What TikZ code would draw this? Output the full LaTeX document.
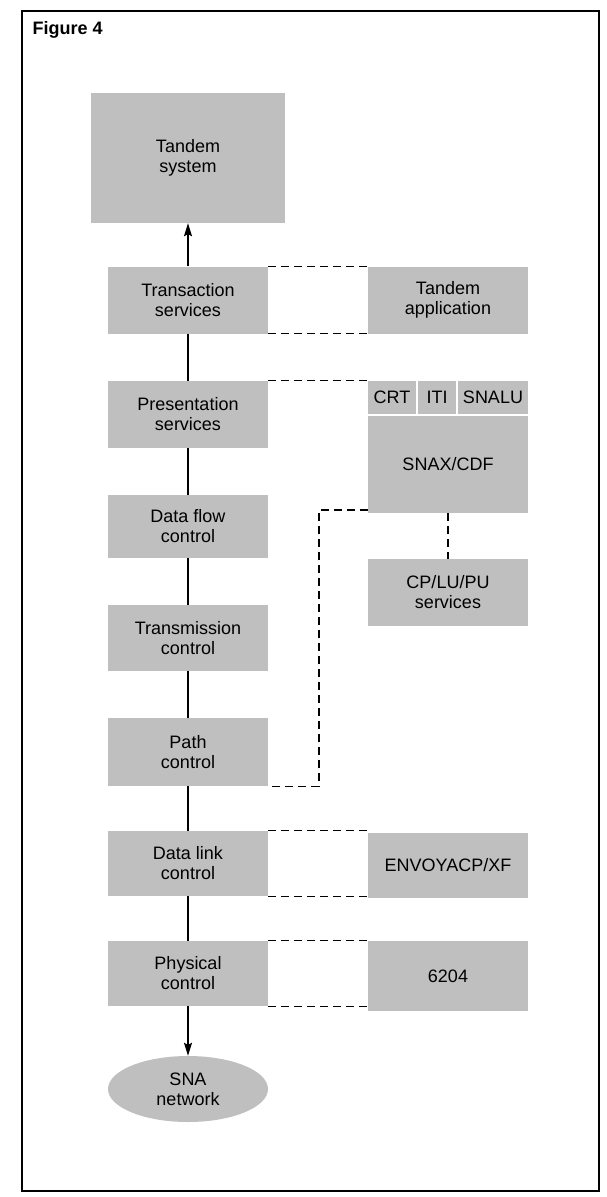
\documentclass[tikz,border=0pt]{standalone}
\usepackage{fontspec}
\setmainfont{Liberation Sans}
\usetikzlibrary{arrows.meta,shapes.geometric}

\begin{document}
\begin{tikzpicture}[x=1pt, y=-1pt,
        font=\fontsize{18}{20}\selectfont,
        layer/.style={fill=black!25, align=center, inner sep=0pt, minimum width=160pt},
        link/.style={line width=1.2pt},
        dline/.style={line width=1.2pt, dash pattern=on 8pt off 5pt},
        tip/.style={-{Stealth[length=13pt, width=8pt, inset=2pt]}}]
    \useasboundingbox (0,0) rectangle (607,1197);
    \draw[line width=1.3pt] (22,11) rectangle (599,1191);
    \node[anchor=north west, font=\bfseries\fontsize{18}{20}\selectfont] (fig) at (29,18) {Figure 4};

    % SNA layers
    \node[layer, minimum width=194pt, minimum height=130pt] (tsys) at (188,158) {Tandem\\system};
    \foreach \n/\y/\h/\t in {trs/300/67/{Transaction\\services}, prs/414.5/67/{Presentation\\services},
            dfc/526.5/63/{Data flow\\control}, trc/638/66/{Transmission\\control},
            pth/752/68/{Path\\control}, dlc/863.5/65/{Data link\\control}, phy/973.5/65/{Physical\\control}}
        \node[layer, minimum height=\h pt] (\n) at (188,\y) {\t};
    \node[ellipse, fill=black!25, align=center, inner sep=0pt, minimum width=160pt, minimum height=66pt] (sna) at (188,1089) {SNA\\network};

    \foreach \a/\b in {trs/prs, prs/dfc, dfc/trc, trc/pth, pth/dlc, dlc/phy}
        \draw[link] (\a) -- (\b);
    \draw[link, tip] (trs) -- (tsys);
    \draw[link, tip] (phy) -- (sna);

    % Tandem products
    \node[layer, minimum height=67pt] (tapp) at (448,300) {Tandem\\application};
    \node[layer, minimum width=48pt, minimum height=33pt] (crt) at (392,397.5) {CRT};
    \node[layer, minimum width=38pt, minimum height=33pt] (iti) at (437,397.5) {ITI};
    \node[layer, minimum width=70pt, minimum height=33pt] (snalu) at (493,397.5) {SNALU};
    \node[layer, minimum height=97pt] (snax) at (448,464.5) {SNAX/CDF};
    \node[layer, minimum height=67pt] (cplu) at (448,592.5) {CP/LU/PU\\services};
    \node[layer, minimum height=65pt] (envoy) at (448,865) {ENVOYACP/XF};
    \node[layer, minimum height=70pt] (six) at (448,976) {6204};

    \draw[dline] (trs.north east) -- (trs.north east -| tapp.west);
    \draw[dline] (trs.south east) -- (trs.south east -| tapp.west);
    \draw[dline] (prs.north east) -- (crt.north west);
    \draw[dline] (snax) -- (cplu);
    \coordinate (bend) at (319,510);
    \draw[dline] (snax.west |- bend) -- (bend) |- (pth.south east);
    \draw[dline] (dlc.north east) -- (dlc.north east -| envoy.west);
    \draw[dline] (dlc.south east) -- (dlc.south east -| envoy.west);
    \draw[dline] (phy.north east) -- (phy.north east -| six.west);
    \draw[dline] (phy.south east) -- (phy.south east -| six.west);
\end{tikzpicture}
\end{document}
